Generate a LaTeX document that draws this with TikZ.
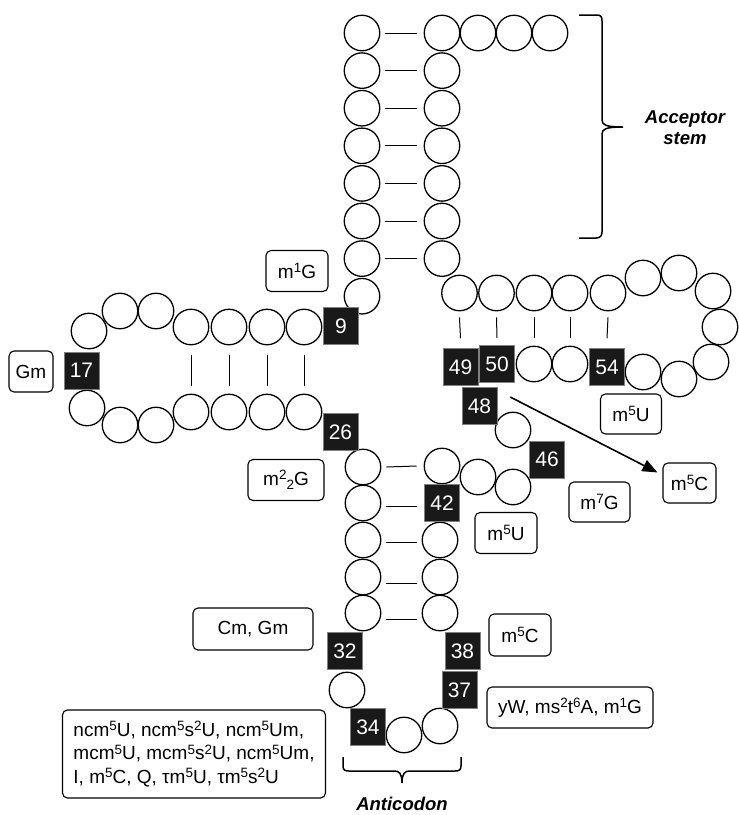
\documentclass[tikz,border=0pt]{standalone}
\usepackage{fontspec}
\setmainfont{Liberation Sans}
\usetikzlibrary{arrows.meta,calc}
\newcommand{\sps}[1]{\raisebox{5.5pt}{\fontsize{13.5}{13.5}\selectfont #1}}
\newcommand{\sbs}[1]{\raisebox{-4pt}{\fontsize{13.5}{13.5}\selectfont #1}}
\begin{document}
\begin{tikzpicture}[x=1pt,y=-1pt,
 nt/.style={circle,draw,line width=1.3pt,minimum size=35.5pt,inner sep=0pt},
 num/.style={fill=black!90,draw=black!50,line width=0.5pt,minimum width=35pt,minimum height=37pt,inner sep=0pt,text=white,font=\fontsize{21}{21}\selectfont},
 lab/.style={draw,rounded corners=5pt,line width=1.1pt,inner sep=0pt,font=\fontsize{19}{23.5}\selectfont},
 pair/.style={line width=1pt},
 brc/.style={line width=1.5pt},
 ttl/.style={font=\fontsize{18.5}{21}\selectfont\bfseries\itshape},
 arr/.style={line width=1.6pt,-{Triangle[length=15pt,width=12pt]}}]
\useasboundingbox (0,0) rectangle (739,815);

% ---------- acceptor stem ----------
\foreach \i/\y in {1/33,2/70.6,3/108.2,4/145.8,5/183.4,6/221,7/258.6,8/296.2}
  \node[nt] (a\i) at (362,\y) {};
\foreach \i/\y in {1/33,2/70.6,3/108.2,4/145.8,5/183.4,6/221,7/258.6}
  \node[nt] (b\i) at (442,\y) {};
\foreach \i/\x in {1/478,2/514,3/550}
  \node[nt] (c\i) at (\x,33) {};
\foreach \i in {1,...,7}
  \draw[pair] ([xshift=5pt]a\i.east) -- ([xshift=-7pt]b\i.west);

% ---------- D arm ----------
\node[nt] (dt1) at (89,331) {};
\node[nt] (dt2) at (120,311) {};
\node[nt] (dt3) at (156,311) {};
\node[nt] (dt4) at (191,327) {};
\node[nt] (dt5) at (229,327) {};
\node[nt] (dt6) at (267,327) {};
\node[nt] (dt7) at (304,327) {};
\node[nt] (db1) at (87,408) {};
\node[nt] (db2) at (120,425) {};
\node[nt] (db3) at (156,425) {};
\node[nt] (db4) at (191,412) {};
\node[nt] (db5) at (229,412) {};
\node[nt] (db6) at (267,412) {};
\node[nt] (db7) at (304,412) {};
\foreach \i in {4,...,7}
  \draw[pair] ([yshift=-10pt]dt\i.south) -- ([yshift=8pt]db\i.north);

% ---------- anticodon stem ----------
\foreach \i/\y in {1/467,2/503,3/540,4/577,5/613}
  \node[nt] (L\i) at (363,\y) {};
\node[nt] (R1) at (442,466) {};
\node[nt] (R3) at (440,540) {};
\node[nt] (R4) at (440,577) {};
\node[nt] (R5) at (440,613) {};
\node[num] (n42) at (442,503) {42};
\draw[pair] ([xshift=5pt]L1.east) -- ([xshift=-7pt]R1.west);
\draw[pair] ([xshift=5pt,yshift=-3pt]L2.east) -- ([xshift=-7pt,yshift=-3pt]n42.west);
\draw[pair] ([xshift=5pt,yshift=-2pt]L3.east) -- ([xshift=-5pt,yshift=-2pt]R3.west);
\draw[pair] ([xshift=5pt,yshift=-6pt]L4.east) -- ([xshift=-5pt,yshift=-6pt]R4.west);
\draw[pair] ([xshift=5pt,yshift=-6pt]L5.east) -- ([xshift=-5pt,yshift=-6pt]R5.west);

% ---------- anticodon loop ----------
\node[nt] (ac1) at (347,690) {};
\node[nt] (ac2) at (404,735) {};
\node[nt] (ac3) at (440,726) {};
\node[num] (n32) at (345,651) {32};
\node[num] (n34) at (368,727) {34};
\node[num] (n37) at (459.5,690) {37};
\node[num] (n38) at (462.5,651) {38};

% ---------- variable loop ----------
\node[nt] (v1) at (513,430) {};
\node[nt] (v2) at (513,487) {};
\node[nt] (v3) at (478,477) {};
\node[num] (n48) at (479.5,406) {48};
\node[num] (n46) at (547,459.5) {46};

% ---------- T arm ----------
\foreach \i/\x in {1/459.5,2/496.5,3/534,4/570,5/608}
  \node[nt] (tt\i) at (\x,293) {};
\node[nt] (tl1) at (643,278) {};
\node[nt] (tl2) at (679,273) {};
\node[nt] (tl3) at (713,291) {};
\node[nt] (tl4) at (720,327) {};
\node[nt] (tl5) at (711,362) {};
\node[nt] (tl6) at (679,379) {};
\node[nt] (tl7) at (643,372) {};
\node[nt] (tb1) at (534,364) {};
\node[nt] (tb2) at (570,364) {};
\node[num] (n49) at (460.5,367) {49};
\node[num] (n50) at (497,364) {50};
\node[num] (n54) at (607,367) {54};
\draw[pair] ([yshift=-6pt]tt1.south) -- ([yshift=10pt]n49.north);
\draw[pair] ([yshift=-6pt]tt2.south) -- ([yshift=7.5pt]n50.north);
\draw[pair] ([yshift=-6pt]tt3.south) -- ([yshift=8pt]tb1.north);
\draw[pair] ([yshift=-6pt]tt4.south) -- ([yshift=8pt]tb2.north);
\draw[pair] ([yshift=-6pt]tt5.south) -- ([yshift=10pt]n54.north);

% ---------- numbered boxes (junctions) ----------
\node[num] (n9) at (341,326) {9};
\node[num] (n17) at (81.5,370.5) {17};
\node[num] (n26) at (340.5,432) {26};

% ---------- labels ----------
\node[lab,minimum width=62pt,minimum height=41pt] (m1G) at (297,271) {m\sps{1}G};
\node[lab,minimum width=44pt,minimum height=41pt] (Gm) at (31,371.5) {Gm};
\node[lab,minimum width=76pt,minimum height=41pt] (m22G) at (286,480) {m\sps{2}\sbs{2}G};
\node[lab,minimum width=61pt,minimum height=40pt] (m5Ut) at (631,414) {m\sps{5}U};
\node[lab,minimum width=53pt,minimum height=40pt] (m5Cr) at (689.5,483) {m\sps{5}C};
\node[lab,minimum width=61pt,minimum height=40pt] (m7G) at (599.5,502) {m\sps{7}G};
\node[lab,minimum width=62pt,minimum height=41pt] (m5Us) at (506,533) {m\sps{5}U};
\node[lab,minimum width=120pt,minimum height=42pt] (CmGm) at (253,629) {Cm, Gm};
\node[lab,minimum width=62pt,minimum height=42pt] (m5Ca) at (520,635) {m\sps{5}C};
\node[lab,minimum width=166pt,minimum height=41pt] (yW) at (570,707.5) {yW, ms\sps{2}t\sps{6}A, m\sps{1}G};
\node[lab,minimum width=263pt,minimum height=88pt,align=left] (wob) at (194,754)
  {ncm\sps{5}U, ncm\sps{5}s\sps{2}U, ncm\sps{5}Um,\\
   mcm\sps{5}U, mcm\sps{5}s\sps{2}U, ncm\sps{5}Um,\\
   I, m\sps{5}C, Q, τm\sps{5}U, τm\sps{5}s\sps{2}U};

% ---------- arrow ----------
\draw[arr] ([shift={(13,-9)}]n48.east) -- ([shift={(-5,10)}]m5Cr.north west);

% ---------- braces and titles ----------
\draw[brc] (579,15) -- (597,15) .. controls (601,15) and (602,17) .. (602,21)
  -- (602,120) .. controls (602,125) and (606,127) .. (623,127)
  .. controls (606,127) and (602,129) .. (602,134)
  -- (602,232) .. controls (602,236) and (600,238) .. (596,238) -- (579,238);
\node[ttl,align=center] (acc) at (685,128) {Acceptor\\stem};

\draw[brc] (343,757) -- (343,766) .. controls (343,770) and (345,771) .. (349,771)
  -- (394,771) .. controls (399,771) and (402,773) .. (402,783)
  .. controls (402,773) and (405,771) .. (410,771)
  -- (455,771) .. controls (459,771) and (461,770) .. (461,766) -- (461,757);
\node[ttl,anchor=base] (anti) at (402,810) {Anticodon};
\end{tikzpicture}
\end{document}
